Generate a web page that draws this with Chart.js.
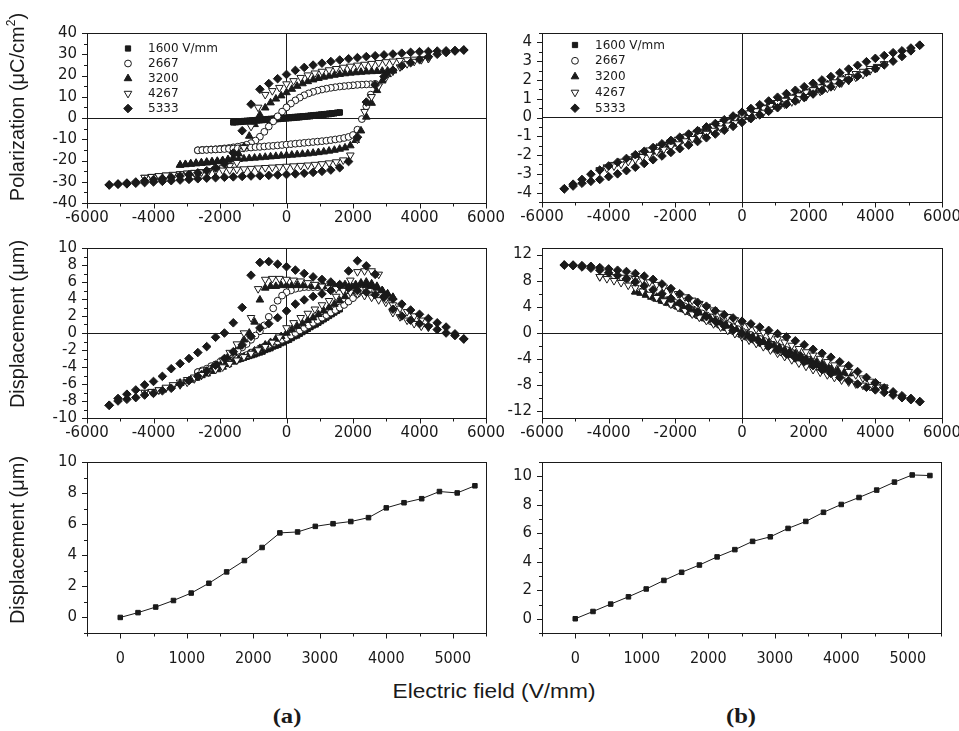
<!DOCTYPE html>
<html>
<head>
<meta charset="utf-8">
<script src="https://cdn.jsdelivr.net/npm/chart.js@4/dist/chart.umd.min.js"></script>
<style>
  body { margin: 0; background: #fff; }
  #fig { position: relative; width: 959px; height: 731px; overflow: hidden; background: #fff; color: #1a1a1a;
         font-family: "Liberation Sans", Arial, sans-serif; }
  #fig canvas { position: absolute; }
  .ytitle { position: absolute; white-space: nowrap; font-size: 20px; line-height: 1;
            transform: translate(-50%, -50%) rotate(-90deg); }
  .ytitle sup { font-size: 12px; vertical-align: 9px; line-height: 0; }
  .xtitle { position: absolute; white-space: nowrap; font-size: 21px; line-height: 1;
            transform: translate(-50%, -50%) scaleX(1.08); }
  .tag { position: absolute; white-space: nowrap; font-family: "Liberation Serif", "Times New Roman", serif;
         font-weight: bold; font-size: 22px; line-height: 1; transform: translate(-50%, -50%) scaleX(1.12); }
</style>
</head>
<body>
<div id="fig">
  <canvas id="polA"></canvas>
  <canvas id="polB"></canvas>
  <canvas id="dispA"></canvas>
  <canvas id="dispB"></canvas>
  <canvas id="peakA"></canvas>
  <canvas id="peakB"></canvas>
  <div class="ytitle" style="left:17px;top:107px">Polarization (μC/cm<sup>2</sup>)</div>
  <div class="ytitle" style="left:17px;top:324px">Displacement (μm)</div>
  <div class="ytitle" style="left:17px;top:540px">Displacement (μm)</div>
  <div class="xtitle" style="left:494px;top:690px">Electric field (V/mm)</div>
  <div class="tag" style="left:287px;top:716px">(a)</div>
  <div class="tag" style="left:741px;top:716px">(b)</div>
</div>
<script>
// ---------- applied field sweep, from +Emax down to -Emax (V/mm) ----------
const E1600 = [1600,1520,1440,1360,1280,1200,1120,1040,960,880,800,720,640,560,480,400,320,240,160,80,0,-80,-160,-240,-320,-400,-480,-560,-640,-720,-800,-880,-960,-1040,-1120,-1200,-1280,-1360,-1440,-1520,-1600];
const E2667 = [2667,2533,2400,2267,2133,2000,1867,1733,1600,1467,1333,1200,1067,933,800,667,533,400,267,133,0,-133,-267,-400,-533,-667,-800,-933,-1067,-1200,-1333,-1467,-1600,-1733,-1867,-2000,-2133,-2267,-2400,-2533,-2667];
const E3200 = [3200,3040,2880,2720,2560,2400,2240,2080,1920,1760,1600,1440,1280,1120,960,800,640,480,320,160,0,-160,-320,-480,-640,-800,-960,-1120,-1280,-1440,-1600,-1760,-1920,-2080,-2240,-2400,-2560,-2720,-2880,-3040,-3200];
const E4267 = [4267,4053,3840,3627,3413,3200,2987,2773,2560,2347,2133,1920,1707,1493,1280,1067,853,640,427,213,0,-213,-427,-640,-853,-1067,-1280,-1493,-1707,-1920,-2133,-2347,-2560,-2773,-2987,-3200,-3413,-3627,-3840,-4053,-4267];
const E5333 = [5333,5067,4800,4533,4267,4000,3733,3467,3200,2933,2667,2400,2133,1867,1600,1333,1067,800,533,267,0,-267,-533,-800,-1067,-1333,-1600,-1867,-2133,-2400,-2667,-2933,-3200,-3467,-3733,-4000,-4267,-4533,-4800,-5067,-5333];

// "down" values follow the sweep above; "up" values follow it reversed (-Emax to +Emax)

// ---------- (a) polarization, μC/cm² ----------
const polA_1600_down = [2.6,2.5,2.3,2.2,2.1,1.9,1.8,1.7,1.5,1.4,1.3,1.2,1.0,0.9,0.8,0.7,0.6,0.5,0.4,0.3,0.2,0.1,0.0,-0.1,-0.2,-0.3,-0.4,-0.5,-0.6,-0.7,-0.8,-0.9,-1.0,-1.1,-1.2,-1.3,-1.4,-1.5,-1.6,-1.8,-1.9];
const polA_1600_up   = [-2.1,-2.0,-1.9,-1.8,-1.7,-1.6,-1.5,-1.4,-1.3,-1.2,-1.1,-1.0,-0.9,-0.9,-0.8,-0.7,-0.6,-0.5,-0.4,-0.3,-0.2,-0.1,0.0,0.1,0.2,0.3,0.5,0.6,0.7,0.8,1.0,1.1,1.2,1.4,1.5,1.7,1.8,2.0,2.2,2.4,2.6];
const polA_2667_down = [16.0,15.9,15.8,15.7,15.6,15.4,15.2,15.0,14.8,14.5,14.2,13.8,13.4,12.9,12.3,11.6,10.7,9.6,8.3,6.8,5.0,3.0,0.8,-1.6,-4.0,-6.5,-8.8,-10.6,-11.8,-12.6,-13.1,-13.5,-13.8,-14.1,-14.3,-14.5,-14.7,-14.8,-14.9,-15.0,-15.2];
const polA_2667_up   = [-15.2,-15.1,-15.0,-14.9,-14.8,-14.7,-14.6,-14.5,-14.4,-14.3,-14.2,-14.0,-13.9,-13.7,-13.6,-13.4,-13.2,-13.1,-12.9,-12.7,-12.5,-12.3,-12.1,-11.9,-11.7,-11.5,-11.3,-11.1,-10.9,-10.7,-10.4,-10.1,-9.8,-9.4,-8.9,-8.0,-5.5,-0.5,5.5,11.0,16.0];
const polA_3200_down = [22.3,22.2,22.1,22.0,21.9,21.8,21.6,21.4,21.2,20.9,20.6,20.2,19.8,19.3,18.7,18.0,17.2,16.2,15.0,13.6,12.0,10.5,9.0,7.2,4.8,1.5,-3.0,-8.5,-13.5,-16.8,-18.6,-19.5,-20.1,-20.5,-20.8,-21.1,-21.3,-21.5,-21.7,-21.9,-22.1];
const polA_3200_up   = [-22.1,-21.8,-21.5,-21.2,-21.0,-20.7,-20.5,-20.3,-20.0,-19.8,-19.6,-19.4,-19.2,-19.0,-18.8,-18.6,-18.4,-18.2,-18.0,-17.8,-17.6,-17.4,-17.2,-17.0,-16.8,-16.5,-16.2,-15.9,-15.5,-15.1,-14.6,-14.0,-13.0,-10.5,-6.0,0.5,7.0,13.0,17.5,20.5,22.3];
const polA_4267_down = [28.0,27.8,27.6,27.3,27.0,26.7,26.4,26.0,25.6,25.2,24.8,24.3,23.8,23.2,22.6,21.9,21.1,20.2,19.0,17.5,16.0,14.3,12.8,11.0,5.0,-4.0,-14.0,-21.0,-22.5,-23.5,-24.2,-24.8,-25.3,-25.7,-26.1,-26.4,-26.7,-27.0,-27.3,-27.6,-28.0];
const polA_4267_up   = [-28.0,-27.6,-27.2,-26.9,-26.6,-26.3,-26.0,-25.7,-25.4,-25.1,-24.8,-24.6,-24.4,-24.2,-24.0,-23.8,-23.6,-23.4,-23.2,-23.0,-22.8,-22.6,-22.4,-22.2,-21.9,-21.6,-21.2,-20.7,-19.8,-17.5,-10.0,3.0,10.0,15.0,19.0,22.0,24.0,25.5,26.6,27.4,28.0];
const polA_5333_down = [32.0,31.8,31.6,31.5,31.3,31.2,30.9,30.5,30.1,29.7,29.3,28.9,28.4,27.9,27.3,26.6,25.8,24.9,23.8,22.4,20.5,18.5,16.2,13.5,6.5,-6.0,-16.5,-21.5,-23.5,-24.8,-25.8,-26.6,-27.3,-27.9,-28.5,-29.0,-29.6,-30.1,-30.6,-31.0,-31.5];
const polA_5333_up   = [-31.5,-31.2,-31.0,-30.7,-30.4,-30.1,-29.8,-29.5,-29.2,-28.9,-28.6,-28.3,-28.1,-27.9,-27.7,-27.5,-27.3,-27.2,-27.0,-26.8,-26.6,-26.3,-26.0,-25.6,-25.1,-24.5,-23.4,-20.5,-9.0,7.5,15.5,19.5,22.5,24.5,26.0,27.5,28.8,30.0,30.8,31.5,32.0];

// ---------- (b) polarization, μC/cm² ----------
const polB_1600_down = [1.1,1.04,1.0,0.93,0.89,0.82,0.78,0.71,0.67,0.6,0.56,0.49,0.45,0.38,0.34,0.27,0.23,0.16,0.12,0.05,0.01,-0.05,-0.09,-0.16,-0.2,-0.27,-0.31,-0.38,-0.42,-0.49,-0.53,-0.6,-0.64,-0.71,-0.75,-0.82,-0.86,-0.93,-0.97,-1.04,-1.08];
const polB_1600_up   = [-1.08,-1.02,-0.99,-0.91,-0.88,-0.8,-0.77,-0.69,-0.66,-0.58,-0.55,-0.47,-0.44,-0.36,-0.33,-0.25,-0.22,-0.14,-0.11,-0.04,-0.01,0.06,0.09,0.17,0.2,0.28,0.31,0.39,0.42,0.5,0.53,0.61,0.64,0.72,0.75,0.83,0.86,0.94,0.97,1.05,1.1];
const polB_2667_down = [1.8,1.7,1.63,1.52,1.45,1.34,1.27,1.16,1.09,0.98,0.91,0.8,0.73,0.62,0.55,0.44,0.37,0.26,0.2,0.09,0.02,-0.08,-0.15,-0.26,-0.33,-0.44,-0.51,-0.62,-0.69,-0.8,-0.87,-0.98,-1.05,-1.16,-1.23,-1.34,-1.41,-1.52,-1.6,-1.71,-1.78];
const polB_2667_up   = [-1.78,-1.69,-1.63,-1.52,-1.45,-1.34,-1.27,-1.16,-1.09,-0.98,-0.91,-0.8,-0.73,-0.62,-0.55,-0.44,-0.37,-0.26,-0.19,-0.09,-0.02,0.08,0.15,0.26,0.33,0.44,0.51,0.62,0.69,0.8,0.87,0.98,1.05,1.16,1.23,1.34,1.41,1.52,1.59,1.71,1.8];
const polB_3200_down = [2.15,2.03,1.95,1.83,1.75,1.62,1.54,1.41,1.33,1.2,1.12,0.99,0.91,0.78,0.7,0.57,0.49,0.36,0.28,0.15,0.07,-0.05,-0.13,-0.26,-0.34,-0.47,-0.55,-0.68,-0.76,-0.89,-0.97,-1.1,-1.18,-1.31,-1.4,-1.53,-1.62,-1.75,-1.85,-1.99,-2.1];
const polB_3200_up   = [-2.1,-2.01,-1.89,-1.8,-1.68,-1.59,-1.47,-1.38,-1.26,-1.17,-1.05,-0.96,-0.84,-0.75,-0.63,-0.54,-0.42,-0.33,-0.21,-0.12,-0.01,0.08,0.2,0.29,0.41,0.5,0.62,0.71,0.83,0.92,1.04,1.13,1.25,1.34,1.47,1.56,1.69,1.78,1.92,2.02,2.15];
const polB_4267_down = [2.85,2.71,2.6,2.45,2.33,2.17,2.05,1.89,1.77,1.62,1.47,1.35,1.19,1.07,0.91,0.79,0.63,0.51,0.35,0.23,0.08,-0.05,-0.21,-0.33,-0.49,-0.61,-0.77,-0.89,-1.05,-1.17,-1.33,-1.45,-1.61,-1.74,-1.91,-2.04,-2.21,-2.34,-2.51,-2.64,-2.8];
const polB_4267_up   = [-2.8,-2.71,-2.59,-2.49,-2.35,-2.24,-2.09,-1.97,-1.81,-1.69,-1.53,-1.41,-1.25,-1.13,-0.97,-0.85,-0.69,-0.57,-0.41,-0.29,-0.13,-0.01,0.15,0.27,0.43,0.55,0.71,0.83,0.99,1.11,1.27,1.39,1.55,1.67,1.84,1.97,2.14,2.29,2.49,2.65,2.85];
const polB_5333_down = [3.85,3.7,3.55,3.45,3.3,3.15,2.97,2.78,2.58,2.38,2.18,2.0,1.82,1.64,1.45,1.27,1.08,0.88,0.68,0.48,0.28,0.08,-0.12,-0.32,-0.5,-0.7,-0.88,-1.05,-1.22,-1.4,-1.6,-1.8,-1.98,-2.18,-2.38,-2.58,-2.8,-3.02,-3.3,-3.55,-3.8];
const polB_5333_up   = [-3.8,-3.65,-3.5,-3.4,-3.3,-3.15,-3.0,-2.83,-2.65,-2.45,-2.25,-2.05,-1.86,-1.66,-1.47,-1.28,-1.08,-0.88,-0.68,-0.47,-0.26,-0.06,0.14,0.33,0.52,0.7,0.88,1.06,1.25,1.44,1.63,1.82,2.0,2.2,2.4,2.6,2.8,3.0,3.25,3.55,3.85];

// ---------- (a) displacement, μm ----------
const dispA_1600_down = [2.8,2.6,2.4,2.2,2.0,1.8,1.6,1.4,1.2,1.0,0.9,0.7,0.5,0.3,0.2,0.0,-0.2,-0.3,-0.5,-0.6,-0.8,-0.9,-1.1,-1.2,-1.4,-1.5,-1.7,-1.8,-1.9,-2.1,-2.2,-2.3,-2.5,-2.6,-2.7,-2.8,-2.9,-3.0,-3.1,-3.2,-3.3];
const dispA_1600_up   = [-3.3,-3.2,-3.1,-3.0,-2.9,-2.8,-2.7,-2.6,-2.5,-2.4,-2.3,-2.2,-2.0,-1.9,-1.8,-1.6,-1.5,-1.4,-1.2,-1.1,-0.9,-0.8,-0.6,-0.4,-0.3,-0.1,0.1,0.3,0.5,0.7,0.9,1.1,1.3,1.5,1.7,1.9,2.1,2.3,2.5,2.7,2.8];
const dispA_2667_down = [5.0,5.1,5.2,5.3,5.3,5.4,5.4,5.4,5.4,5.4,5.4,5.4,5.4,5.4,5.4,5.4,5.4,5.3,5.2,5.0,4.8,4.4,3.8,2.9,1.9,0.9,0.2,-0.3,-0.8,-1.3,-1.7,-2.1,-2.5,-2.8,-3.1,-3.4,-3.7,-3.9,-4.2,-4.4,-4.6];
const dispA_2667_up   = [-4.6,-4.5,-4.4,-4.2,-4.0,-3.8,-3.6,-3.4,-3.2,-3.0,-2.8,-2.6,-2.3,-2.1,-1.8,-1.6,-1.4,-1.2,-1.0,-0.8,-0.6,-0.3,0.0,0.3,0.6,0.9,1.2,1.5,1.8,2.1,2.4,2.7,3.0,3.3,3.7,4.1,4.6,5.0,5.2,5.2,5.0];
const dispA_3200_down = [4.2,4.6,5.0,5.3,5.5,5.6,5.7,5.7,5.7,5.7,5.6,5.6,5.5,5.5,5.5,5.5,5.6,5.6,5.6,5.6,5.6,5.6,5.5,5.5,5.3,3.9,1.3,0.0,-0.8,-1.6,-2.3,-2.9,-3.4,-3.8,-4.2,-4.6,-4.9,-5.2,-5.5,-5.7,-5.9];
const dispA_3200_up   = [-5.9,-5.7,-5.5,-5.3,-5.0,-4.8,-4.5,-4.3,-4.0,-3.7,-3.4,-3.1,-2.8,-2.5,-2.1,-1.8,-1.4,-1.1,-0.7,-0.4,0.0,0.4,0.8,1.1,1.5,1.8,2.2,2.6,3.0,3.4,3.8,4.3,4.9,5.5,5.9,6.0,5.8,5.5,5.0,4.6,4.2];
const dispA_4267_down = [0.7,1.5,2.0,2.5,2.9,3.3,3.6,3.9,4.2,4.4,4.6,4.8,5.0,5.2,5.3,5.5,5.7,5.9,6.1,6.2,6.3,6.4,6.4,6.3,5.2,1.8,0.0,-1.3,-2.3,-3.2,-3.9,-4.5,-5.0,-5.4,-5.8,-6.1,-6.3,-6.5,-6.7,-6.9,-7.0];
const dispA_4267_up   = [-7.0,-6.9,-6.7,-6.4,-6.1,-5.8,-5.5,-5.2,-4.9,-4.6,-4.3,-4.0,-3.6,-3.2,-2.8,-2.4,-2.0,-1.6,-1.1,-0.5,0.6,1.2,1.8,2.3,2.8,3.3,3.8,4.3,5.0,6.2,7.2,7.3,7.3,6.9,4.0,2.4,1.9,1.5,1.1,0.8,0.7];
const dispA_5333_down = [-0.7,-0.1,0.7,1.2,1.7,2.2,2.7,3.4,4.0,4.3,4.5,4.8,5.0,5.3,5.6,6.0,6.3,6.6,7.0,7.4,7.8,8.1,8.4,8.3,6.8,3.0,1.2,0.0,-0.5,-1.6,-2.3,-3.0,-3.6,-4.2,-5.1,-5.7,-6.1,-6.7,-7.2,-7.7,-8.5];
const dispA_5333_up   = [-8.5,-8.0,-7.8,-7.6,-7.3,-7.1,-6.8,-6.5,-6.0,-5.6,-5.1,-4.5,-3.8,-3.0,-2.2,-1.4,-0.4,0.6,1.1,1.8,2.6,3.4,3.9,4.3,4.6,5.0,5.7,7.3,8.5,7.9,6.9,4.2,2.8,2.0,1.5,1.1,0.8,0.4,0.0,-0.3,-0.7];

// ---------- (b) displacement, μm ----------
const dispB_1600_down = [-3.3,-3.1,-3.0,-2.8,-2.6,-2.5,-2.3,-2.1,-2.0,-1.8,-1.6,-1.5,-1.3,-1.1,-1.0,-0.8,-0.6,-0.5,-0.3,-0.1,0.1,0.2,0.4,0.6,0.7,0.9,1.1,1.2,1.4,1.6,1.7,1.9,2.1,2.2,2.4,2.6,2.7,2.9,3.0,3.2,3.3];
const dispB_1600_up   = [3.3,3.1,3.0,2.8,2.6,2.5,2.3,2.1,2.0,1.8,1.6,1.5,1.3,1.1,0.9,0.8,0.6,0.4,0.3,0.1,-0.1,-0.3,-0.4,-0.6,-0.8,-0.9,-1.1,-1.3,-1.4,-1.6,-1.8,-1.9,-2.1,-2.3,-2.4,-2.6,-2.7,-2.9,-3.0,-3.2,-3.3];
const dispB_2667_down = [-5.5,-5.2,-4.9,-4.6,-4.4,-4.1,-3.8,-3.5,-3.2,-2.9,-2.6,-2.3,-2.0,-1.8,-1.5,-1.2,-0.9,-0.6,-0.3,0.0,0.3,0.6,0.9,1.2,1.5,1.8,2.1,2.4,2.7,3.0,3.3,3.6,3.8,4.1,4.4,4.6,4.8,5.0,5.2,5.4,5.5];
const dispB_2667_up   = [5.5,5.3,5.0,4.7,4.5,4.2,3.9,3.6,3.3,3.0,2.7,2.4,2.1,1.8,1.5,1.2,0.9,0.6,0.3,0.0,-0.3,-0.6,-0.9,-1.2,-1.5,-1.8,-2.1,-2.4,-2.7,-3.0,-3.3,-3.6,-3.9,-4.2,-4.4,-4.7,-4.9,-5.1,-5.3,-5.4,-5.5];
const dispB_3200_down = [-6.2,-5.9,-5.65,-5.3,-5.05,-4.7,-4.45,-4.1,-3.85,-3.5,-3.15,-2.8,-2.55,-2.2,-1.95,-1.5,-1.25,-0.9,-0.55,-0.2,0.15,0.5,0.85,1.2,1.55,1.9,2.25,2.6,2.95,3.3,3.65,4.0,4.3,4.6,4.9,5.2,5.5,5.75,6.0,6.2,6.3];
const dispB_3200_up   = [6.3,6.1,5.8,5.5,5.2,4.9,4.6,4.3,4.0,3.6,3.3,2.9,2.6,2.2,1.9,1.5,1.2,0.8,0.5,0.1,-0.3,-0.6,-1.0,-1.3,-1.7,-2.0,-2.4,-2.7,-3.1,-3.4,-3.7,-4.1,-4.4,-4.7,-5.0,-5.3,-5.6,-5.8,-6.0,-6.1,-6.2];
const dispB_4267_down = [-8.3,-7.9,-7.4,-6.9,-6.4,-5.9,-5.4,-4.9,-4.4,-3.9,-3.4,-2.9,-2.4,-1.9,-1.4,-0.9,-0.4,0.1,0.6,1.1,1.5,2.0,2.5,3.0,3.5,4.0,4.5,5.0,5.5,6.0,6.5,7.0,7.4,7.8,8.1,8.3,8.4,8.5,8.6,8.6,8.6];
const dispB_4267_up   = [8.6,8.3,8.0,7.7,7.3,6.9,6.4,5.9,5.4,4.9,4.4,3.9,3.4,2.9,2.4,1.9,1.4,0.9,0.4,-0.1,-0.6,-1.1,-1.6,-2.1,-2.6,-3.1,-3.6,-4.1,-4.6,-5.1,-5.6,-6.0,-6.4,-6.8,-7.2,-7.5,-7.8,-8.0,-8.2,-8.3,-8.3];
const dispB_5333_down = [-10.5,-10.0,-9.6,-9.0,-8.4,-7.6,-6.8,-5.9,-5.0,-4.4,-3.7,-3.1,-2.5,-1.8,-1.2,-0.6,-0.1,0.4,0.9,1.4,1.8,2.3,2.8,3.4,4.1,4.7,5.3,6.0,6.8,7.5,8.2,8.7,9.1,9.4,9.6,9.8,10.0,10.2,10.3,10.4,10.4];
const dispB_5333_up   = [10.4,10.3,10.1,9.9,9.6,9.2,8.8,8.3,7.8,7.2,6.6,6.0,5.3,4.6,3.9,3.2,2.5,1.8,1.1,0.4,-0.2,-0.8,-1.4,-2.0,-2.6,-3.2,-3.8,-4.4,-5.0,-5.6,-6.2,-6.8,-7.3,-7.8,-8.3,-8.7,-9.1,-9.5,-9.9,-10.2,-10.5];

// ---------- peak displacement against peak field ----------
const peakField = [0,267,533,800,1067,1333,1600,1867,2133,2400,2667,2933,3200,3467,3733,4000,4267,4533,4800,5067,5333];
const peakDispA = [0.0,0.31,0.67,1.09,1.57,2.2,2.93,3.66,4.5,5.44,5.5,5.86,6.03,6.17,6.42,7.05,7.38,7.64,8.1,8.01,8.47];
const peakDispB = [0.0,0.51,1.03,1.54,2.09,2.69,3.26,3.77,4.34,4.85,5.43,5.75,6.34,6.83,7.47,8.02,8.51,9.03,9.59,10.09,10.05];

// ---------- tick labels ----------
const fieldTicks = [-6000,-4000,-2000,0,2000,4000,6000];
const peakFieldTicks = [0,1000,2000,3000,4000,5000];
const polTicksA = [-40,-30,-20,-10,0,10,20,30,40];
const polTicksB = [-4,-3,-2,-1,0,1,2,3,4];
const dispTicksA = [-10,-8,-6,-4,-2,0,2,4,6,8,10];
const dispTicksB = [-12,-8,-4,0,4,8,12];
const peakTicks = [0,2,4,6,8,10];

const amplitudes = ['1600','2667','3200','4267','5333'];
const legendLabels = ['1600 V/mm','2667','3200','4267','5333'];

// ---------- styling ----------
const INK = '#1a1a1a';
const MARKERS = {
  '1600': { style: 'rect',     rot: 0,   r: 3.7, filled: true,  order: 4 },
  '2667': { style: 'circle',   rot: 0,   r: 3.4, filled: false, order: 3 },
  '3200': { style: 'triangle', rot: 0,   r: 4.4, filled: true,  order: 2 },
  '4267': { style: 'triangle', rot: 180, r: 4.4, filled: false, order: 1 },
  '5333': { style: 'rectRot',  rot: 0,   r: 4.3, filled: true,  order: 0 }
};
const SWEEPS = { '1600': E1600, '2667': E2667, '3200': E3200, '4267': E4267, '5333': E5333 };

Chart.defaults.font.family = "'DejaVu Sans', 'Liberation Sans', sans-serif";
Chart.defaults.font.size = 15;
Chart.defaults.color = INK;

function loopPoints(E, down, up) {
  const pts = [];
  const n = E.length;
  for (let i = 0; i < n; i++) pts.push({ x: E[i], y: down[i] });
  for (let i = 0; i < n; i++) pts.push({ x: E[n - 1 - i], y: up[i] });
  return pts;
}

function loopDatasets(table) {
  return amplitudes.map((a, k) => {
    const m = MARKERS[a];
    return {
      label: legendLabels[k],
      data: loopPoints(SWEEPS[a], table[a][0], table[a][1]),
      pointStyle: m.style, pointRotation: m.rot, pointRadius: m.r, pointHoverRadius: m.r,
      pointBackgroundColor: m.filled ? INK : '#ffffff', pointBorderColor: INK, pointBorderWidth: 1,
      order: m.order
    };
  });
}

function drawMarker(ctx, m, x, y) {
  ctx.fillStyle = m.filled ? INK : '#ffffff';
  ctx.strokeStyle = INK;
  ctx.lineWidth = 1;
  Chart.helpers.drawPoint(ctx, { pointStyle: m.style, rotation: m.rot, radius: m.r, borderWidth: 1 }, x, y);
}

// plot frame, outward tick marks (major + minor) and the in-plot key
const frameTicks = {
  id: 'frameTicks',
  afterDraw(chart, args, o) {
    const { ctx, chartArea: a } = chart;
    const sx = chart.scales.x, sy = chart.scales.y;
    ctx.save();
    ctx.strokeStyle = INK;
    ctx.lineWidth = 1;
    ctx.strokeRect(a.left + 0.5, a.top + 0.5, a.right - a.left, a.bottom - a.top);
    ctx.beginPath();
    const isMajor = (v, step) => Math.abs(v / step - Math.round(v / step)) < 1e-6;
    for (let v = Math.ceil(sx.min / o.xMinor - 1e-9) * o.xMinor; v <= sx.max + 1e-9; v += o.xMinor) {
      const p = Math.round(sx.getPixelForValue(v)) + 0.5;
      ctx.moveTo(p, a.bottom + 0.5);
      ctx.lineTo(p, a.bottom + (isMajor(v, o.xMajor) ? 5.5 : 3.5));
    }
    for (let v = Math.ceil(sy.min / o.yMinor - 1e-9) * o.yMinor; v <= sy.max + 1e-9; v += o.yMinor) {
      const p = Math.round(sy.getPixelForValue(v)) + 0.5;
      ctx.moveTo(a.left + 0.5, p);
      ctx.lineTo(a.left - (isMajor(v, o.yMajor) ? 5 : 3), p);
    }
    ctx.stroke();
    if (o.key) {
      ctx.font = "12px 'DejaVu Sans', 'Liberation Sans', sans-serif";
      ctx.textBaseline = 'middle';
      ctx.textAlign = 'left';
      amplitudes.forEach((amp, i) => {
        const x = a.left + o.key.x, y = a.top + o.key.y + i * o.key.dy;
        drawMarker(ctx, MARKERS[amp], x, y);
        ctx.fillStyle = INK;
        ctx.fillText(legendLabels[i], x + o.key.gap, y + 0.5);
      });
    }
    ctx.restore();
  }
};

const PAD = { l: 60, r: 32, t: 14, b: 34 };

function panel(id, box, spec) {
  const cv = document.getElementById(id);
  const W = box.R - box.L + PAD.l + PAD.r;
  const H = box.B - box.T + PAD.t + PAD.b;
  cv.width = W; cv.height = H;
  cv.style.width = W + 'px'; cv.style.height = H + 'px';
  cv.style.left = (box.L - PAD.l) + 'px';
  cv.style.top = (box.T - PAD.t) + 'px';

  const zeroGrid = spec.zeroLines
    ? { display: true, drawTicks: false, lineWidth: 1,
        color: c => (c.tick && c.tick.value === 0) ? INK : 'rgba(0,0,0,0)' }
    : { display: false, drawTicks: false };

  new Chart(cv, {
    type: 'scatter',
    data: { datasets: spec.datasets },
    options: {
      responsive: false, animation: false, devicePixelRatio: 1, events: [],
      layout: { padding: { left: 0, right: PAD.r, top: PAD.t, bottom: 0 } },
      plugins: { legend: { display: false }, tooltip: { enabled: false },
                 frameTicks: spec.frame },
      scales: {
        x: {
          type: 'linear', min: spec.x.min, max: spec.x.max,
          grid: zeroGrid, border: { display: false },
          afterBuildTicks: s => { s.ticks = spec.x.ticks.map(v => ({ value: v })); },
          afterFit: s => { s.height = PAD.b; },
          ticks: { autoSkip: false, maxRotation: 0, padding: spec.x.pad,
                   font: spec.x.font || undefined, callback: v => String(v) }
        },
        y: {
          type: 'linear', min: spec.y.min, max: spec.y.max,
          grid: zeroGrid, border: { display: false },
          afterBuildTicks: s => { s.ticks = spec.y.ticks.map(v => ({ value: v })); },
          afterFit: s => { s.width = PAD.l; },
          ticks: { autoSkip: false, padding: 10, callback: v => String(v) }
        }
      }
    },
    plugins: [frameTicks]
  });
}

const polA = { '1600': [polA_1600_down, polA_1600_up], '2667': [polA_2667_down, polA_2667_up],
               '3200': [polA_3200_down, polA_3200_up], '4267': [polA_4267_down, polA_4267_up],
               '5333': [polA_5333_down, polA_5333_up] };
const polB = { '1600': [polB_1600_down, polB_1600_up], '2667': [polB_2667_down, polB_2667_up],
               '3200': [polB_3200_down, polB_3200_up], '4267': [polB_4267_down, polB_4267_up],
               '5333': [polB_5333_down, polB_5333_up] };
const dispA = { '1600': [dispA_1600_down, dispA_1600_up], '2667': [dispA_2667_down, dispA_2667_up],
                '3200': [dispA_3200_down, dispA_3200_up], '4267': [dispA_4267_down, dispA_4267_up],
                '5333': [dispA_5333_down, dispA_5333_up] };
const dispB = { '1600': [dispB_1600_down, dispB_1600_up], '2667': [dispB_2667_down, dispB_2667_up],
                '3200': [dispB_3200_down, dispB_3200_up], '4267': [dispB_4267_down, dispB_4267_up],
                '5333': [dispB_5333_down, dispB_5333_up] };

const fieldAxis = { min: -6000, max: 6000, ticks: fieldTicks, pad: 6 };

panel('polA', { L: 87, R: 486, T: 28, B: 203 }, {
  datasets: loopDatasets(polA), zeroLines: true, x: fieldAxis,
  y: { min: -40, max: 40, ticks: polTicksA },
  frame: { xMajor: 2000, xMinor: 1000, yMajor: 10, yMinor: 5, key: { x: 41, y: 15.5, dy: 15, gap: 20 } }
});
panel('polB', { L: 542, R: 942, T: 28, B: 202 }, {
  datasets: loopDatasets(polB), zeroLines: true, x: fieldAxis,
  y: { min: -4.5, max: 4.5, ticks: polTicksB },
  frame: { xMajor: 2000, xMinor: 1000, yMajor: 1, yMinor: 0.5, key: { x: 33, y: 12, dy: 15.8, gap: 20 } }
});
panel('dispA', { L: 87, R: 486, T: 243, B: 418 }, {
  datasets: loopDatasets(dispA), zeroLines: true, x: fieldAxis,
  y: { min: -10, max: 10, ticks: dispTicksA },
  frame: { xMajor: 2000, xMinor: 1000, yMajor: 2, yMinor: 1 }
});
panel('dispB', { L: 542, R: 942, T: 243, B: 418 }, {
  datasets: loopDatasets(dispB), zeroLines: true, x: fieldAxis,
  y: { min: -13, max: 13, ticks: dispTicksB },
  frame: { xMajor: 2000, xMinor: 1000, yMajor: 4, yMinor: 2 }
});

function peakSet(values) {
  return [{
    data: peakField.map((e, i) => ({ x: e, y: values[i] })),
    showLine: true, borderColor: INK, borderWidth: 1, tension: 0,
    pointStyle: 'rect', pointRadius: 3.2, pointHoverRadius: 3.2,
    pointBackgroundColor: INK, pointBorderColor: INK, pointBorderWidth: 1
  }];
}
const peakAxis = { min: -500, max: 5500, ticks: peakFieldTicks, pad: 16,
                   font: { family: "'Liberation Sans Narrow', 'DejaVu Sans Condensed', sans-serif", size: 16 } };

panel('peakA', { L: 87, R: 486, T: 457, B: 633 }, {
  datasets: peakSet(peakDispA), zeroLines: false, x: peakAxis,
  y: { min: -1, max: 10, ticks: peakTicks },
  frame: { xMajor: 1000, xMinor: 500, yMajor: 2, yMinor: 1 }
});
panel('peakB', { L: 542, R: 941, T: 457, B: 633 }, {
  datasets: peakSet(peakDispB), zeroLines: false, x: peakAxis,
  y: { min: -1, max: 11, ticks: peakTicks },
  frame: { xMajor: 1000, xMinor: 500, yMajor: 2, yMinor: 1 }
});
</script>
</body>
</html>
